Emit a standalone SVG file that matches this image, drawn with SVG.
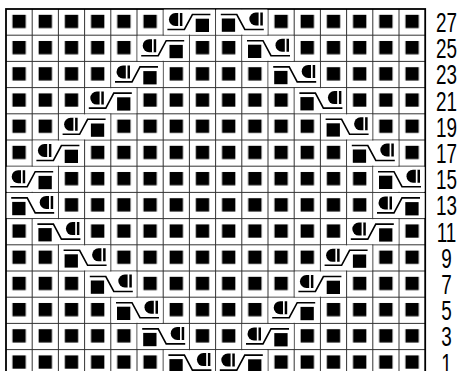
<svg xmlns="http://www.w3.org/2000/svg" xmlns:xlink="http://www.w3.org/1999/xlink" width="461" height="371" viewBox="0 0 461 371">
<style>
.grid{stroke:#333;stroke-width:1;fill:none}
.border{stroke:#000;stroke-width:1.8;fill:none}
.cl{stroke:#000;stroke-width:1.6;fill:none}
.lbl{font-family:"Liberation Sans",Arial,sans-serif;font-size:28px;fill:#000;text-anchor:middle}
</style>
<defs>
<pattern id="sqp" patternUnits="userSpaceOnUse" x="6" y="9" width="26.2" height="26.2">
<rect x="6.45" y="5.8" width="13.3" height="13.3" fill="#000"/>
</pattern>
<g id="dsym">
<path d="M6.5 0H13.5V13H6.5A6.5 6.5 0 0 1 6.5 0Z" fill="#000"/>
<rect x="9.3" y="-0.5" width="1.7" height="14" fill="#fff"/>
</g>
<g id="cableA">
<rect x="-25.6" y="0.6" width="51.2" height="25" fill="#fff"/>
<use xlink:href="#dsym" href="#dsym" x="-20.5" y="4"/>
<path class="cl" d="M-22 20.5H-5L3 5.5H21"/>
<rect x="6.3" y="9.7" width="13.3" height="13.3" fill="#000"/>
</g>
<g id="cableB">
<rect x="-25.6" y="0.6" width="51.2" height="25" fill="#fff"/>
<path class="cl" d="M-21 5.5H-5L3 20.5H22"/>
<rect x="-20" y="9.5" width="13.3" height="13.3" fill="#000"/>
<use xlink:href="#dsym" href="#dsym" x="7.5" y="3.5"/>
</g>
</defs>
<rect width="461" height="371" fill="#fff"/>
<g id="squares">
<rect x="6" y="9" width="419.2" height="366.8" fill="url(#sqp)"/>
</g>
<g id="grid">
<path class="grid" d="M32.2 9V376M58.4 9V376M84.6 9V376M110.8 9V376M137 9V376M163.2 9V376M189.4 9V376M215.6 9V376M241.8 9V376M268 9V376M294.2 9V376M320.4 9V376M346.6 9V376M372.8 9V376M399 9V376M6 35.2H425.2M6 61.4H425.2M6 87.6H425.2M6 113.8H425.2M6 140H425.2M6 166.2H425.2M6 192.4H425.2M6 218.6H425.2M6 244.8H425.2M6 271H425.2M6 297.2H425.2M6 323.4H425.2M6 349.6H425.2"/>
<rect class="border" x="6" y="9" width="419.2" height="366.8"/>
</g>
<g id="cables">
<use href="#cableA" xlink:href="#cableA" transform="translate(189.4,9)"/>
<use href="#cableB" xlink:href="#cableB" transform="translate(241.8,9)"/>
<use href="#cableA" xlink:href="#cableA" transform="translate(163.2,35.2)"/>
<use href="#cableB" xlink:href="#cableB" transform="translate(268,35.2)"/>
<use href="#cableA" xlink:href="#cableA" transform="translate(137,61.4)"/>
<use href="#cableB" xlink:href="#cableB" transform="translate(294.2,61.4)"/>
<use href="#cableA" xlink:href="#cableA" transform="translate(110.8,87.6)"/>
<use href="#cableB" xlink:href="#cableB" transform="translate(320.4,87.6)"/>
<use href="#cableA" xlink:href="#cableA" transform="translate(84.6,113.8)"/>
<use href="#cableB" xlink:href="#cableB" transform="translate(346.6,113.8)"/>
<use href="#cableA" xlink:href="#cableA" transform="translate(58.4,140)"/>
<use href="#cableB" xlink:href="#cableB" transform="translate(372.8,140)"/>
<use href="#cableA" xlink:href="#cableA" transform="translate(32.2,166.2)"/>
<use href="#cableB" xlink:href="#cableB" transform="translate(399,166.2)"/>
<use href="#cableB" xlink:href="#cableB" transform="translate(32.2,192.4)"/>
<use href="#cableA" xlink:href="#cableA" transform="translate(399,192.4)"/>
<use href="#cableB" xlink:href="#cableB" transform="translate(58.4,218.6)"/>
<use href="#cableA" xlink:href="#cableA" transform="translate(372.8,218.6)"/>
<use href="#cableB" xlink:href="#cableB" transform="translate(84.6,244.8)"/>
<use href="#cableA" xlink:href="#cableA" transform="translate(346.6,244.8)"/>
<use href="#cableB" xlink:href="#cableB" transform="translate(110.8,271)"/>
<use href="#cableA" xlink:href="#cableA" transform="translate(320.4,271)"/>
<use href="#cableB" xlink:href="#cableB" transform="translate(137,297.2)"/>
<use href="#cableA" xlink:href="#cableA" transform="translate(294.2,297.2)"/>
<use href="#cableB" xlink:href="#cableB" transform="translate(163.2,323.4)"/>
<use href="#cableA" xlink:href="#cableA" transform="translate(268,323.4)"/>
<use href="#cableB" xlink:href="#cableB" transform="translate(189.4,349.6)"/>
<use href="#cableA" xlink:href="#cableA" transform="translate(241.8,349.6)"/>
</g>
<g id="labels" transform="translate(446.5,0) scale(0.675,1)">
<text class="lbl" x="0" y="32">27</text>
<text class="lbl" x="0" y="58.2">25</text>
<text class="lbl" x="0" y="84.4">23</text>
<text class="lbl" x="0" y="110.6">21</text>
<text class="lbl" x="0" y="136.8">19</text>
<text class="lbl" x="0" y="163">17</text>
<text class="lbl" x="0" y="189.2">15</text>
<text class="lbl" x="0" y="215.4">13</text>
<text class="lbl" x="0" y="241.6">11</text>
<text class="lbl" x="0" y="267.8">9</text>
<text class="lbl" x="0" y="294">7</text>
<text class="lbl" x="0" y="320.2">5</text>
<text class="lbl" x="0" y="346.4">3</text>
<text class="lbl" x="0" y="372.6">1</text>
</g>
</svg>
